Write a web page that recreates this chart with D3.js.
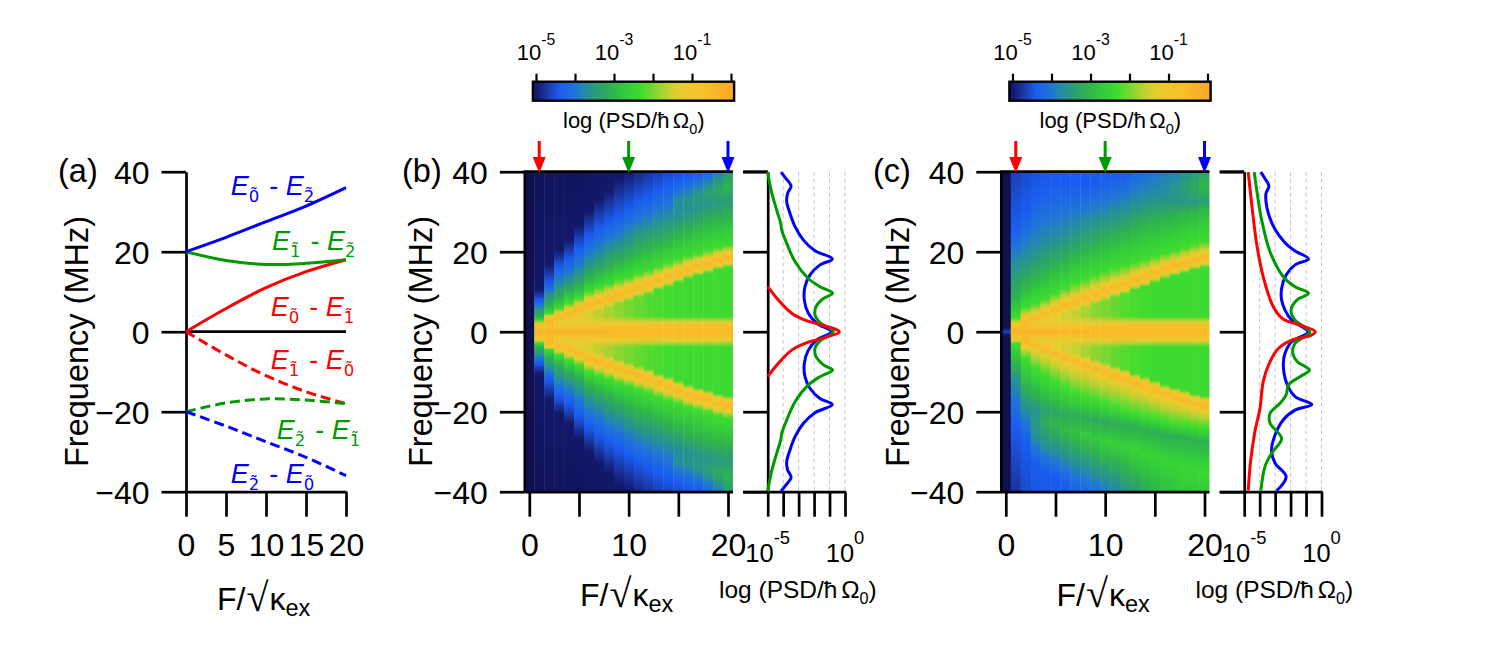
<!DOCTYPE html>
<html><head><meta charset="utf-8">
<script src="https://cdn.jsdelivr.net/npm/d3@7"></script>
<style>html,body{margin:0;background:#fff}svg{display:block}text{font-family:"Liberation Sans",Arial,sans-serif;fill:#000}</style>
</head><body><svg id="c" width="1495" height="646"></svg>
<script>
const _ = null;
// ---------- panel (a) ----------
const fieldA = [0, 5, 10, 15, 20];
const e02 = [20, 23.6, 27.5, 31.4, 36];
const e12 = [20, 17.8, 16.8, 17.1, 18];
const e01 = [0, 5.8, 11, 15, 18];
const xTicksA = [0, 5, 10, 15, 20];
const yTicks = [-40, -20, 0, 20, 40];
const xTicksMap = [0, 5, 10, 15, 20];
const xLabelsMap = [0, 10, 20];
const arrowFields = [1, 10, 20];
const lineColors = ['#ff0000', '#009a00', '#0000ff'];

// ---------- colour map: log10(PSD) -> colour ----------
const cmapLevels = [-5.5, -5, -4.7, -4.4, -4.0, -3.7, -3.3, -3.0, -2.6, -2.3, -2.0, -1.6, -1.3, -0.6, 0];
const cmapColors = ['#10104e', '#12186a', '#1a3aa8', '#1a5cf0', '#1f74d8', '#26909a', '#2ca466', '#2fb84a', '#35d038', '#40dc30', '#78d830', '#c4d030', '#e8cc30', '#f8be28', '#fca828'];

// ---------- heat-map columns F = 0..20, frequency (MHz) of features ----------
const bCentre  = [-5.5,-0.3,-0.35,-0.35,-0.35,-0.4,-0.4,-0.4,-0.4,-0.45,-0.45,-0.45,-0.45,-0.45,-0.45,-0.5,-0.5,-0.5,-0.5,-0.5,-0.5];
const core1    = [_,1.0,1.0,1.0,1.0,1.0,1.0,1.0,1.0,1.0,1.0,1.0,1.0,1.0,1.0,1.0,1.0,1.0,1.0,1.0,1.0];
const coreEdge = [_,2.1,_,2.4,2.1,2.1,2.1,2.1,2.1,2.1,2.1,2.1,2.1,2.1,2.1,2.1,2.1,2.1,2.1,2.1,2.1];
const valley1  = [_,_,_,_,_,_,3.6,3.7,3.8,3.8,3.8,3.8,3.8,3.8,3.8,3.8,3.8,3.8,3.8,3.8,3.8];
const valley2  = [_,_,_,_,_,_,4.5,5.3,6.1,7.0,7.8,8.7,9.4,10.5,11.3,12.3,13.3,14,14.7,15.5,16.1];
const valleyL  = [_,_,_,_,_,_,-1.45,-1.6,-1.75,-1.9,-2,-2.1,-2.2,-2.25,-2.3,-2.35,-2.35,-2.35,-2.35,-2.35,-2.35];
const ridgeLo  = [_,_,_,_,2.9,4,5.2,6,6.8,7.9,8.7,9.6,10.3,11.4,12.2,13.2,14.2,14.9,15.6,16.4,17];
const ridge    = [_,_,2.5,3.3,4.3,5.4,6.7,7.5,8.3,9.4,10.2,11.1,11.8,12.9,13.75,14.75,15.7,16.4,17.1,17.9,18.5];
const ridgeHi  = [_,_,4,4.8,5.8,6.9,8.2,9,9.8,10.9,11.7,12.6,13.3,14.4,15.2,16.2,17.2,17.9,18.6,19.4,20];
// panel (b): contours (symmetric about 0)
const bBright = [_,2.8,4.4,5.8,7.1,8.3,10,11,12,12.8,13.5,14.5,15.2,16.2,17.1,17.9,18.8,19.5,20.2,21,21.6];
const bGreen  = [_,3.7,6.2,7.9,9.6,10.8,13,14.3,15.5,17,18,19.5,20.5,21.5,22.5,23.7,24.7,25.7,26.7,27.5,28];
const bTeal   = [_,5.8,9.2,11.7,13,15,17.5,19,21,22,24,25.5,26.5,27.5,28.5,29.5,30.5,31.2,31.8,32.2,32.7];
const bTealL  = [_,-3.7,-3.7,-3.7,-3.7,-3.7,-3.7,-3.7,-3.7,-3.7,-3.7,-3.7,-3.7,-3.7,-3.7,-3.7,-3.66,-3.62,-3.58,-3.52,-3.46];
const bandF   = [_,_,_,_,_,_,_,_,_,_,_,_,_,_,_,32.5,33,33.8,34.6,35.5,36.3];
const bandL   = [_,_,_,_,_,_,_,_,_,_,_,_,_,_,_,-3.68,-3.6,-3.5,-3.38,-3.22,-3.05];
const bBlue   = [_,7.9,12,16.2,18,21,23.8,25.8,27.5,29,30.8,32.5,33.75,35.4,36.7,37.8,38.8,39.6,41,43,48];
const bNavy   = [_,10.4,17,20.4,23,26.7,30,33,35.4,38.3,40,42,44,46,48,50,52,54,56,58,60];
// panel (c): upper half
const cCentre = [-4.6,-0.3,-0.35,-0.35,-0.35,-0.4,-0.4,-0.4,-0.4,-0.45,-0.45,-0.45,-0.45,-0.45,-0.45,-0.5,-0.5,-0.5,-0.5,-0.5,-0.5];
const cBright = [_,3.5,6,7,8.2,9.5,10.8,12,13,14,15,15.8,16.5,17.3,18,18.8,19.5,20.2,21,21.8,22.5];
const cGreen  = [_,8,11,13,14,15.8,17,18.3,19.6,20.8,22,23,24,25,26,26.7,27.5,28.3,29,30,30.4];
const cTeal   = [_,17,18.75,20.4,22,23,24.6,25.8,27,28.3,29,30,30.8,32,33,33.75,33.8,33,32.5,32.3,32.3];
const cTealL  = [_,-3.7,-3.7,-3.7,-3.7,-3.7,-3.7,-3.7,-3.7,-3.7,-3.7,-3.7,-3.7,-3.7,-3.7,-3.7,-3.68,-3.6,-3.55,-3.48,-3.42];
const cBandF  = [_,_,_,_,_,_,_,_,_,_,_,_,_,_,_,_,_,35.2,35.5,36,36.4];
const cBandL  = [_,_,_,_,_,_,_,_,_,_,_,_,_,_,_,_,_,-3.55,-3.38,-3.2,-3.0];
const cBlue   = [_,26,30,34.5,36,37,37,36.7,36.7,37,38,39,39.6,_,_,_,_,_,_,_,_];
const cTop    = [-5.5,-4.65,-4.55,-4.5,-4.45,-4.4,-4.4,-4.4,-4.4,-4.4,-4.35,-4.3,-4.3,-4.2,-4.1,-4,-3.9,-3.9,-3.7,-3.5,-3.3];
// panel (c): lower half (magnitudes of negative frequency)
const dBright = [_,3,6.7,9.2,10.8,12.5,14,15.4,16.25,17,18,18.75,19.6,20.4,21,21.7,22.25,23,23.3,23.75,24];
const dValF   = [_,_,20,20,20,20.2,20.8,21.2,21.7,22,22.5,23,23.3,23.75,24.6,25,25.8,26.2,26.7,27,27.5];
const dValL   = [_,_,-3.75,-3.6,-3.35,-3.25,-3.2,-3.2,-3.2,-3.2,-3.2,-3.15,-3.15,-3.15,-3.15,-3.15,-3.15,-3.15,-3.1,-3.1,-3.1];
const dPeakF  = [_,_,_,22.5,22.5,23.3,24.6,25,25.8,26.7,27.5,28.3,28.75,29.6,30.4,31.25,32,33,33.75,34.6,35.4];
const dPeakL  = [_,_,_,-3.5,-3.15,-3,-2.9,-2.8,-2.7,-2.7,-2.6,-2.6,-2.6,-2.5,-2.5,-2.5,-2.5,-2.5,-2.45,-2.45,-2.4];
const dTeal   = [_,12.5,_,26.7,29,30,31.7,33,34,35.5,37,38.5,_,_,_,_,_,_,_,_,_];
const dBlue   = [_,24,27.5,33,35,36.5,38.5,_,_,_,_,_,_,_,_,_,_,_,_,_,_];
const dBottom = [-5.5,-4.75,-4.55,-4.45,-4.45,-4.42,-4.4,-4.32,-4.22,-4.1,-3.95,-3.8,-3.6,-3.45,-3.25,-3.05,-2.9,-2.8,-2.7,-2.7,-2.7];

// ---------- side spectra: [frequency, log10 PSD] ----------
const bRedF  = [11.25,7.9,4.6,2.9,1.67,0];
const bRedL  = [-5,-4.31,-3.45,-2.59,-1.5,-0.37];
const bGrnF  = [39.9,35.4,30.4,27.1,25.4,22.1,17.5,13.3,11.25,9.6,8.3,6.25,4.2,2.3,0];
const bGrnL  = [-5,-4.78,-4.42,-4.16,-4.09,-3.77,-3.23,-2.37,-1.62,-0.8,-1.4,-1.87,-1.94,-1.62,-0.75];
const bBluF  = [39.9,38.6,36.4,34.6,32.5,29.6,26.25,22.9,20.25,18.2,16.7,14.2,11.25,7.9,4.6,2.1,0];
const bBluL  = [-4.14,-3.88,-3.49,-3.71,-3.77,-3.56,-3.23,-2.69,-1.94,-0.82,-1.62,-2.26,-2.59,-2.63,-2.37,-1.83,-0.9];
const cRedF  = [39.9,32.1,22.1,13.75,6.25,3.1,1.9,0,-1,-2.1,-4.2,-7.5,-12.5,-19.2,-25,-32.5,-39.75];
const cRedL  = [-4.74,-4.52,-4.2,-3.77,-3.12,-2.47,-1.6,-0.4,-0.74,-1.93,-2.79,-3.33,-3.77,-3.98,-4.31,-4.59,-4.74];
const cGrnF  = [39.9,34.6,27.9,20,13.75,11.25,9.6,7.9,5.4,2.9,0.25,-0.4,-2.9,-5.4,-7.5,-9.6,-11.25,-13.3,-15.8,-17.9,-20.4,-22.9,-26.7,-30.4,-33.75,-39.75];
const cGrnL  = [-4.35,-4.16,-3.87,-3.33,-2.47,-1.71,-0.84,-1.6,-1.97,-1.71,-0.78,-0.78,-1.71,-1.86,-1.56,-0.78,-1.39,-2.14,-2.29,-2.68,-3.33,-3.33,-2.58,-3.23,-3.66,-3.92];
const cBluF  = [39.9,38.3,36.4,34.6,32.5,29.6,25.6,22.25,20.2,18.2,16.7,14.2,10.8,7.9,5.4,2.9,0.25,-0.3,-2.5,-5.4,-8.3,-12.9,-16.25,-18.2,-19.6,-22,-27.1,-30,-32.9,-36.25,-39.75];
const cBluL  = [-3.92,-3.66,-3.4,-3.59,-3.59,-3.44,-3.01,-2.36,-1.71,-0.84,-1.71,-2.29,-2.58,-2.58,-2.36,-1.93,-0.9,-0.9,-1.93,-2.36,-2.47,-2.25,-1.71,-0.63,-1.71,-2.47,-3.12,-3.23,-3,-2.29,-2.9];

const columns = d3.range(21);
const svg = d3.select('#c');
const defs = svg.append('defs');
const black = '#000';
const AXW = 2.7;
const level2color = d3.scaleLinear().domain(cmapLevels).range(cmapColors).clamp(true);
const yFreq = d3.scaleLinear().domain([-40, 40]).range([491.7, 171.7]);
const mirrorF = a => a.concat(a.slice(0, -1).reverse().map(v => -v));
const mirrorV = a => a.concat(a.slice(0, -1).reverse());

function styleAxis(g, w) {
  g.selectAll('.domain,.tick line').attr('stroke', black).attr('stroke-width', w || AXW);
}
function tickText(g, size) {
  g.selectAll('.tick text').attr('font-size', size).attr('font-family', '"Liberation Sans"').attr('fill', black);
}
function yAxis(x) {
  const g = svg.append('g').attr('transform', `translate(${x},0)`)
    .call(d3.axisLeft(yFreq).tickValues(yTicks).tickSize(24.5).tickPadding(12).tickSizeOuter(0));
  styleAxis(g); tickText(g, 32);
  g.selectAll('.tick text').attr('dy', '0.36em');
  return g;
}
function yTitle(x) {
  svg.append('text').attr('transform', `translate(${x},467) rotate(-90)`).attr('font-size', 32.5).text('Frequency (MHz)');
}
function kappaTitle(x, y) {
  const t = svg.append('text').attr('x', x).attr('y', y).attr('font-size', 32);
  t.append('tspan').text('F/');
  t.append('tspan').attr('font-size', 40).attr('dx', 1).attr('dy', 1).attr('font-family', '"DejaVu Sans"').attr('font-weight', 200).text('√');
  t.append('tspan').attr('dx', 1).attr('dy', -1).text('κ');
  t.append('tspan').attr('font-size', 23.5).attr('dy', 6).text('ex');
}
function psdLabel(x, y, size) {
  const t = svg.append('text').attr('x', x).attr('y', y).attr('font-size', size);
  t.append('tspan').text('log (PSD/ħ');
  t.append('tspan').attr('dx', size * 0.15).text('Ω');
  t.append('tspan').attr('font-size', size * 0.66).attr('dy', size * 0.25).text('0');
  t.append('tspan').attr('dy', -size * 0.25).text(')');
}
function powerLabel(x, y, exp, size) {
  const t = svg.append('text').attr('x', x).attr('y', y).attr('font-size', size).attr('text-anchor', 'middle');
  t.append('tspan').text('10');
  t.append('tspan').attr('font-size', size * 0.72).attr('dy', -size * 0.68).text(exp);
}
function panelLetter(x, s) {
  svg.append('text').attr('x', x).attr('y', 182).attr('font-size', 32.5).text(s);
}

// ---------- panel (a) ----------
const xA = d3.scaleLinear().domain([0, 20]).range([186, 346]);
panelLetter(58, '(a)');
yAxis(186);
yTitle(88);
const xAxisA = svg.append('g').attr('transform', 'translate(0,491.7)')
  .call(d3.axisBottom(xA).tickValues(xTicksA).tickSize(25).tickPadding(17).tickSizeOuter(0));
styleAxis(xAxisA); tickText(xAxisA, 32);
svg.append('line').attr('x1', xA(0)).attr('x2', xA(20)).attr('y1', yFreq(0)).attr('y2', yFreq(0)).attr('stroke', black).attr('stroke-width', AXW);
const lineA = d3.line().x((d, i) => xA(fieldA[i])).y(d => yFreq(d)).curve(d3.curveCatmullRom);
[[e01, 0], [e12, 1], [e02, 2]].forEach(([s, c]) => {
  svg.append('path').attr('d', lineA(s)).attr('fill', 'none').attr('stroke', lineColors[c]).attr('stroke-width', 3);
  svg.append('path').attr('d', lineA(s.map(v => -v))).attr('fill', 'none').attr('stroke', lineColors[c]).attr('stroke-width', 3).attr('stroke-dasharray', '10,5');
});
const energyLabels = [
  {a:'0', b:'2', c:2, x:230.7, y:195},
  {a:'1', b:'2', c:1, x:272, y:250},
  {a:'0', b:'1', c:0, x:270.7, y:315.7},
  {a:'1', b:'0', c:0, x:270.7, y:369},
  {a:'2', b:'1', c:1, x:276.7, y:439},
  {a:'2', b:'0', c:2, x:230.7, y:482.7}
];
energyLabels.forEach(d => {
  const t = svg.append('text').attr('font-size', 27).attr('style', `fill:${lineColors[d.c]}`);
  const piece = (s, dx, dy, size, it, fam) => {
    const p = t.append('tspan').attr('x', d.x + dx).attr('y', d.y + dy).attr('font-size', size)
      .attr('font-style', it ? 'italic' : 'normal').attr('style', `fill:${lineColors[d.c]}`).text(s);
    if (fam) p.attr('font-family', fam);
  };
  piece('E', 0, 0, 27, true);
  piece(d.a + '\u0303', 18, 7, 16.5, false, '"DejaVu Sans"');
  piece('-', 38.5, 0, 27, false);
  piece('E', 55, 0, 27, true);
  piece(d.b + '\u0303', 73, 7, 16.5, false, '"DejaVu Sans"');
});
kappaTitle(217, 610);

// ---------- map panels ----------
function addStops(list, fArr, lArr, i, sign) {
  const f = fArr[i];
  if (f === null || f === undefined) return;
  const l = Array.isArray(lArr) ? lArr[i] : lArr;
  if (l === null) return;
  list.push([sign * f, l]);
}
function innerStops(list, i, sign) {
  addStops(list, core1, -0.6, i, sign);
  addStops(list, coreEdge, -1.25, i, sign);
  addStops(list, valley1, valleyL, i, sign);
  addStops(list, valley2, valleyL, i, sign);
  addStops(list, ridgeLo, -1.3, i, sign);
  addStops(list, ridge, -0.4, i, sign);
  addStops(list, ridgeHi, -1.3, i, sign);
}
function columnB(i) {
  const s = [[0, bCentre[i]]];
  [1, -1].forEach(sg => {
    innerStops(s, i, sg);
    addStops(s, bBright, -2.3, i, sg);
    addStops(s, bGreen, -3, i, sg);
    addStops(s, bTeal, bTealL, i, sg);
    addStops(s, bandF, bandL, i, sg);
    addStops(s, bBlue, -4.4, i, sg);
    addStops(s, bNavy, -5, i, sg);
    s.push([sg * 61, -5.5]);
  });
  return s;
}
function columnC(i) {
  const s = [[0, cCentre[i]]];
  if (i === 0) { s.push([1.5, -5.5], [-1.5, -5.5]); }
  innerStops(s, i, 1);
  addStops(s, cBright, -2.3, i, 1);
  addStops(s, cGreen, -3, i, 1);
  addStops(s, cTeal, cTealL, i, 1);
  addStops(s, cBandF, cBandL, i, 1);
  addStops(s, cBlue, -4.4, i, 1);
  s.push([40, cTop[i]]);
  innerStops(s, i, -1);
  addStops(s, dBright, -2.3, i, -1);
  addStops(s, dTeal, -3.7, i, -1);
  addStops(s, dValF, dValL, i, -1);
  addStops(s, dPeakF, dPeakL, i, -1);
  addStops(s, dBlue, -4.4, i, -1);
  s.push([-40, dBottom[i]]);
  return s;
}
function mapPanel(id, dx, columnFn, letter, letterX, redF, redL, grnF, grnL, bluF, bluL) {
  const x = d3.scaleLinear().domain([0, 20]).range([529.3 + dx, 728 + dx]);
  const cw = x(1) - x(0);
  columns.forEach(i => {
    const st = columnFn(i).sort((a, b) => a[0] - b[0]);
    const lev = d3.scaleLinear().domain(st.map(d => d[0])).range(st.map(d => d[1])).clamp(true);
    const gid = `${id}col${i}`;
    const g = defs.append('linearGradient').attr('id', gid).attr('x1', 0).attr('x2', 0).attr('y1', 0).attr('y2', 1);
    d3.range(0, 161).forEach(k => {
      const f = 40 - k * 0.5;
      g.append('stop').attr('offset', k / 160).attr('stop-color', level2color(lev(f)));
    });
    svg.append('rect').attr('x', x(i - 0.5)).attr('y', yFreq(40)).attr('width', cw + (i < 20 ? 0.4 : 0)).attr('height', yFreq(-40) - yFreq(40)).attr('fill', `url(#${gid})`);
  });
  const left = x(-0.5), right = x(20.5);
  panelLetter(letterX, letter);
  yAxis(left);
  yTitle(left - 92);
  svg.append('line').attr('x1', left - 1).attr('x2', right).attr('y1', yFreq(40)).attr('y2', yFreq(40)).attr('stroke', black).attr('stroke-width', AXW);
  const ax = svg.append('g').attr('transform', 'translate(0,491.7)')
    .call(d3.axisBottom(x).tickValues(xTicksMap).tickSize(25).tickPadding(17).tickSizeOuter(0).tickFormat(d => xLabelsMap.includes(d) ? d : ''));
  styleAxis(ax); tickText(ax, 32);
  ax.select('.domain').attr('d', `M${left},0.5H${right}`);
  kappaTitle(580 + dx, 606);

  // arrows
  arrowFields.forEach((fv, i) => {
    const ax0 = x(fv);
    svg.append('line').attr('x1', ax0).attr('x2', ax0).attr('y1', 141).attr('y2', 160).attr('stroke', lineColors[i]).attr('stroke-width', 3);
    svg.append('path').attr('d', d3.line()([[ax0 - 6.5, 157], [ax0 + 6.5, 157], [ax0, 173]]) + 'Z').attr('fill', lineColors[i]);
  });

  // colour bar
  const xb = d3.scaleLinear().domain([-5, 0]).range([536 + dx, 731 + dx]);
  const gb = defs.append('linearGradient').attr('id', id + 'bar');
  const bd = [-5.08, 0.08];
  d3.range(0, 101).forEach(k => {
    const l = bd[0] + (bd[1] - bd[0]) * k / 100;
    gb.append('stop').attr('offset', k / 100).attr('stop-color', level2color(l));
  });
  svg.append('rect').attr('x', xb(bd[0])).attr('y', 81.7).attr('width', xb(bd[1]) - xb(bd[0])).attr('height', 19)
    .attr('fill', `url(#${id}bar)`).attr('stroke', black).attr('stroke-width', 2.4);
  const at = svg.append('g').attr('transform', 'translate(0,81.7)')
    .call(d3.axisTop(xb).tickValues(d3.range(-5, 1)).tickSize(8).tickSizeOuter(0).tickFormat(''));
  styleAxis(at, 2.2); at.select('.domain').remove();
  [-5, -3, -1].forEach(e => powerLabel(xb(e), 60, String(e), 22));
  psdLabel(563 + dx, 128, 22);

  // side spectra
  const xs = d3.scaleLinear().domain([-5, 0]).range([767.7 + dx, 845 + dx]);
  d3.range(-4, 1).forEach(v => svg.append('line').attr('x1', xs(v)).attr('x2', xs(v)).attr('y1', yFreq(40)).attr('y2', yFreq(-40))
    .attr('stroke', '#c4c4c4').attr('stroke-width', 1).attr('stroke-dasharray', '4,3'));
  const sl = svg.append('g').attr('transform', `translate(${xs(-5)},0)`)
    .call(d3.axisLeft(yFreq).tickValues(yTicks).tickSize(24.5).tickSizeOuter(0).tickFormat(''));
  styleAxis(sl);
  const sb = svg.append('g').attr('transform', 'translate(0,491.7)')
    .call(d3.axisBottom(xs).tickValues(d3.range(-5, 1)).tickSize(25).tickSizeOuter(0).tickFormat(''));
  styleAxis(sb);
  sb.select('.domain').attr('d', `M${xs(-5) - 24.5},0.5H${xs(0) + 1}`);
  svg.append('line').attr('x1', xs(-5) - 24.5).attr('x2', xs(-5)).attr('y1', yFreq(40)).attr('y2', yFreq(40)).attr('stroke', black).attr('stroke-width', AXW);
  const line = d3.line().x(d => xs(d[1])).y(d => yFreq(d[0])).curve(d3.curveCatmullRom.alpha(0.5));
  [[bluF, bluL, 2], [grnF, grnL, 1], [redF, redL, 0]].forEach(([f, l, c]) => {
    svg.append('path').attr('d', line(f.map((v, i) => [v, l[i]]))).attr('fill', 'none').attr('stroke', lineColors[c]).attr('stroke-width', 3);
  });
  powerLabel(xs(-5), 561.7, '-5', 25.5);
  powerLabel(xs(0), 561.7, '0', 25.5);
  psdLabel(719 + dx, 598, 24.5);
}
mapPanel('b', 0, columnB, '(b)', 402,
  mirrorF(bRedF), mirrorV(bRedL), mirrorF(bGrnF), mirrorV(bGrnL), mirrorF(bBluF), mirrorV(bBluL));
mapPanel('c', 476.5, columnC, '(c)', 873, cRedF, cRedL, cGrnF, cGrnL, cBluF, cBluL);
</script></body></html>
